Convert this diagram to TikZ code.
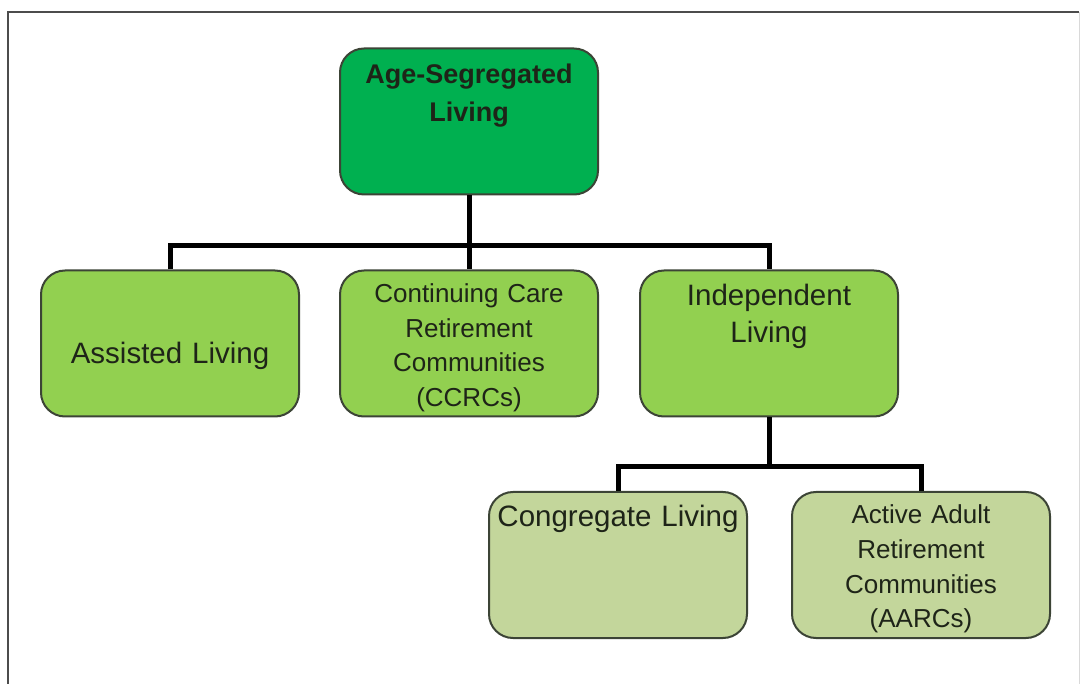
\documentclass[tikz,border=0pt]{standalone}
\usepackage{fontspec}
\setmainfont{Liberation Sans}
\definecolor{topgreen}{HTML}{00B050}
\definecolor{midgreen}{HTML}{92D050}
\definecolor{lowgreen}{HTML}{C3D69B}
\definecolor{boxline}{HTML}{3C4436}
\definecolor{textdark}{HTML}{1E2418}
\begin{document}
\begin{tikzpicture}[x=1pt, y=-1pt,
    box/.style={draw=boxline, line width=2pt, rounded corners=24pt, text=textdark,
        text width=250pt, inner xsep=4pt, inner ysep=0pt, align=center},
    upper/.style={box, text height=35pt, text depth=111pt},
    fourline/.style={box, text height=32pt, text depth=114pt},
    oneline/.style={box, text height=93.5pt, text depth=52.5pt},
    link/.style={line width=5pt, black}]
    \useasboundingbox (0,0) rectangle (1080,684);
    \draw[line width=2pt, black!70] (8,684) -- (8,12) -- (1079,12);
    \draw[line width=1pt, black!15] (1079,12) -- (1079,684);
    % top level
    \node[upper, fill=topgreen, font=\fontsize{27}{38}\bfseries\selectfont] (age) at (469,121.5) {Age-Segregated\\Living};
    % second level
    \node[oneline, fill=midgreen, font=\fontsize{29.5}{37}\selectfont] (assist) at (170,343.5) {Assisted Living};
    \node[fourline, fill=midgreen, font=\fontsize{26}{34.6}\selectfont] (ccrc) at (469,343.5) {Continuing Care\\Retirement\\Communities\\(CCRCs)};
    \node[upper, fill=midgreen, font=\fontsize{29.5}{37}\selectfont] (indep) at (769,343.5) {Independent\\Living};
    % third level
    \node[upper, fill=lowgreen, font=\fontsize{29.5}{37}\selectfont] (congr) at (618,565) {Congregate Living};
    \node[fourline, fill=lowgreen, font=\fontsize{26}{34.6}\selectfont] (aarc) at (921,565) {Active Adult\\Retirement\\Communities\\(AARCs)};
    \coordinate (j1) at (469,246);
    \coordinate (j2) at (769,467);
    \draw[link] (age) -- (j1);
    \draw[link] (assist.north) |- (j1) -| (indep.north);
    \draw[link] (j1) -- (ccrc.north);
    \draw[link] (indep) -- (j2);
    \draw[link] (congr.north) |- (j2) -| (aarc.north);
\end{tikzpicture}
\end{document}
